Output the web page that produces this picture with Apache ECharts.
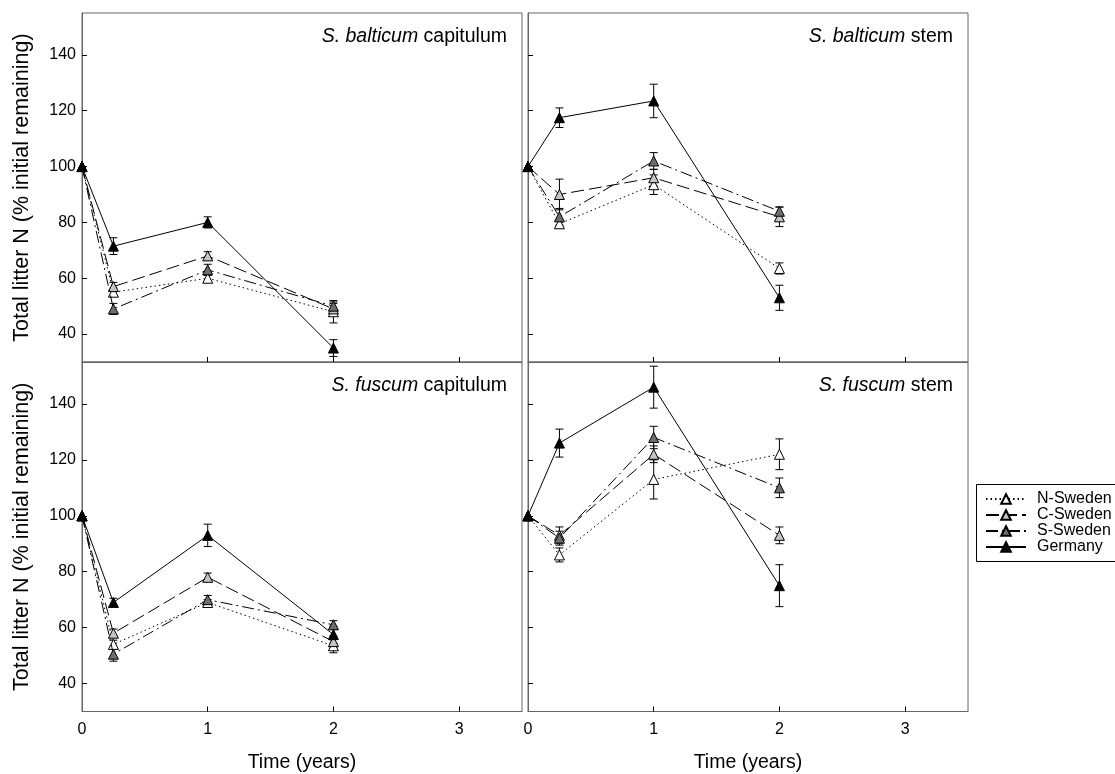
<!DOCTYPE html>
<html>
<head>
<meta charset="utf-8">
<script src="https://cdn.jsdelivr.net/npm/echarts@6/dist/echarts.min.js"></script>
<style>
  html, body { margin: 0; padding: 0; background: #fff; }
  #chart { width: 1115px; height: 774px; }
</style>
</head>
<body>
<div id="chart"></div>
<script>
// Sampling times (years)
const times = [0, 0.25, 1, 2];
const regions = ['N-Sweden', 'C-Sweden', 'S-Sweden', 'Germany'];
const xTickLabels = [0, 1, 2, 3];
const yTickLabels = [40, 60, 80, 100, 120, 140];

// S. balticum capitulum: mean and SE of total litter N (% initial remaining)
const balCapN = [100, 55, 60, 48];
const balCapNErr = [0, 1.5, 1.5, 4];
const balCapC = [100, 57, 68, 49];
const balCapCErr = [0, 1.5, 1.5, 2];
const balCapS = [100, 49, 63, 50];
const balCapSErr = [0, 2, 2, 1.5];
const balCapG = [100, 71.5, 80, 35];
const balCapGErr = [0, 3, 2, 3];

// S. balticum stem
const balStemN = [100, 79.5, 93.5, 63.5];
const balStemNErr = [0, 1.5, 3.5, 2];
const balStemC = [100, 90, 96, 82];
const balStemCErr = [0, 5.5, 3, 3.5];
const balStemS = [100, 82, 102, 84];
const balStemSErr = [0, 3, 3, 1.5];
const balStemG = [100, 117.5, 123.5, 53];
const balStemGErr = [0, 3.5, 6, 4.5];

// S. fuscum capitulum
const fusCapN = [100, 54, 69, 53.5];
const fusCapNErr = [0, 1.5, 1, 2.5];
const fusCapC = [100, 58, 78, 55];
const fusCapCErr = [0, 1.5, 1.5, 2];
const fusCapS = [100, 50.5, 70, 61];
const fusCapSErr = [0, 2.5, 1.5, 1.5];
const fusCapG = [100, 69, 93, 57.5];
const fusCapGErr = [0, 1.5, 4, 3];

// S. fuscum stem
const fusStemN = [100, 86, 113, 122];
const fusStemNErr = [0, 2.5, 7, 5.5];
const fusStemC = [100, 93, 122, 93];
const fusStemCErr = [0, 3, 3, 3];
const fusStemS = [100, 92, 128, 110];
const fusStemSErr = [0, 2.5, 4, 3.5];
const fusStemG = [100, 126, 146, 75];
const fusStemGErr = [0, 5, 7.5, 7.5];

const FONT = '"Liberation Sans", Arial, sans-serif';

const panels = [
  { species: 'S. balticum', part: 'capitulum', means: [balCapN, balCapC, balCapS, balCapG], errs: [balCapNErr, balCapCErr, balCapSErr, balCapGErr] },
  { species: 'S. balticum', part: 'stem', means: [balStemN, balStemC, balStemS, balStemG], errs: [balStemNErr, balStemCErr, balStemSErr, balStemGErr] },
  { species: 'S. fuscum', part: 'capitulum', means: [fusCapN, fusCapC, fusCapS, fusCapG], errs: [fusCapNErr, fusCapCErr, fusCapSErr, fusCapGErr] },
  { species: 'S. fuscum', part: 'stem', means: [fusStemN, fusStemC, fusStemS, fusStemG], errs: [fusStemNErr, fusStemCErr, fusStemSErr, fusStemGErr] }
];

// Layout of the 2 x 2 panel grid
const layout = [
  { left: 82, top: 13, width: 440, height: 349, titleRight: 608, titleTop: 27 },
  { left: 528, top: 13, width: 440, height: 349, titleRight: 162, titleTop: 27 },
  { left: 82, top: 362, width: 440, height: 349.5, titleRight: 608, titleTop: 376 },
  { left: 528, top: 362, width: 440, height: 349.5, titleRight: 162, titleTop: 376 }
];

const markerFill = ['#ffffff', '#c4c4c4', '#6e6e6e', '#000000'];
const lineDash = [[1.5, 3], [13, 5], [12, 4, 2, 4], 'solid'];
const axisGrey = '#666666';

const grids = layout.map(l => ({
  left: l.left, top: l.top, width: l.width, height: l.height,
  show: true, borderColor: axisGrey, borderWidth: 1, backgroundColor: 'transparent'
}));

const xAxes = layout.map((l, i) => {
  const bottom = i >= 2;
  return {
    type: 'value', gridIndex: i, min: 0, max: 3.5,
    axisLine: { show: true, lineStyle: { color: axisGrey, width: 1 } },
    axisTick: { show: true, inside: true, length: 5, customValues: [1, 2, 3], lineStyle: { color: '#000', width: 1 } },
    axisLabel: { show: bottom, customValues: xTickLabels, fontSize: 16, fontFamily: FONT, color: '#000', margin: 10 },
    splitLine: { show: false },
    name: bottom ? 'Time (years)' : '',
    nameLocation: 'middle', nameGap: 41,
    nameTextStyle: { fontSize: 19.5, fontFamily: FONT, color: '#000' }
  };
});

const yAxes = layout.map((l, i) => {
  const leftCol = i % 2 === 0;
  return {
    type: 'value', gridIndex: i, min: 30, max: 155,
    axisLine: { show: true, lineStyle: { color: axisGrey, width: 1 } },
    axisTick: { show: true, inside: true, length: 5, customValues: yTickLabels, lineStyle: { color: '#000', width: 1 } },
    axisLabel: { show: leftCol, customValues: yTickLabels, fontSize: 16, fontFamily: FONT, color: '#000', margin: 6 },
    splitLine: { show: false },
    name: leftCol ? 'Total litter N (% initial remaining)' : '',
    nameLocation: 'middle', nameGap: 49,
    nameTextStyle: { fontSize: 21.5, fontFamily: FONT, color: '#000' }
  };
});

const titles = panels.map((p, i) => ({
  text: '{i|' + p.species + '} ' + p.part,
  right: layout[i].titleRight, top: layout[i].titleTop, padding: 0,
  textStyle: {
    fontSize: 19.5, fontWeight: 'normal', fontFamily: FONT, color: '#000',
    rich: { i: { fontStyle: 'italic', fontSize: 19.5, fontFamily: FONT, color: '#000' } }
  }
}));

// Error bars with short caps
function renderErrorBar(params, api) {
  const x = api.value(0), m = api.value(1), e = api.value(2);
  if (!e) return null;
  const hi = api.coord([x, m + e]);
  const lo = api.coord([x, m - e]);
  const cap = 4;
  const style = { stroke: '#000', lineWidth: 1, fill: null };
  return {
    type: 'group',
    children: [
      { type: 'line', shape: { x1: hi[0], y1: hi[1], x2: lo[0], y2: lo[1] }, style },
      { type: 'line', shape: { x1: hi[0] - cap, y1: hi[1], x2: hi[0] + cap, y2: hi[1] }, style },
      { type: 'line', shape: { x1: lo[0] - cap, y1: lo[1], x2: lo[0] + cap, y2: lo[1] }, style }
    ]
  };
}

const series = [];
panels.forEach((p, pi) => {
  const barData = [];
  regions.forEach((r, ri) => {
    times.forEach((t, k) => barData.push([t, p.means[ri][k], p.errs[ri][k]]));
  });
  series.push({
    type: 'custom', xAxisIndex: pi, yAxisIndex: pi,
    renderItem: renderErrorBar, data: barData,
    encode: { x: 0, y: 1 }, z: 2, silent: true
  });
  regions.forEach((r, ri) => {
    series.push({
      type: 'line', name: r, xAxisIndex: pi, yAxisIndex: pi,
      data: times.map((t, k) => [t, p.means[ri][k]]),
      symbol: 'triangle', symbolSize: 10, showSymbol: true,
      itemStyle: { color: markerFill[ri], borderColor: '#000', borderWidth: 1 },
      lineStyle: { color: '#000', width: 1, type: lineDash[ri] },
      z: 3 + ri, silent: true
    });
  });
});

const chart = echarts.init(document.getElementById('chart'), null, { renderer: 'canvas' });
chart.setOption({
  animation: false,
  backgroundColor: '#fff',
  title: titles,
  grid: grids,
  xAxis: xAxes,
  yAxis: yAxes,
  legend: {
    data: regions, orient: 'vertical', left: 985, top: 491,
    itemWidth: 40, itemHeight: 12, itemGap: 0, padding: 0,
    selectedMode: false,
    textStyle: { fontSize: 16, lineHeight: 14, fontFamily: FONT, color: '#000', padding: [0, 0, 0, 6] }
  },
  graphic: [{
    type: 'rect', silent: true,
    shape: { x: 976.5, y: 484.5, width: 170, height: 77 },
    style: { fill: null, stroke: '#000', lineWidth: 1 }
  }],
  series: series
});
</script>
</body>
</html>
